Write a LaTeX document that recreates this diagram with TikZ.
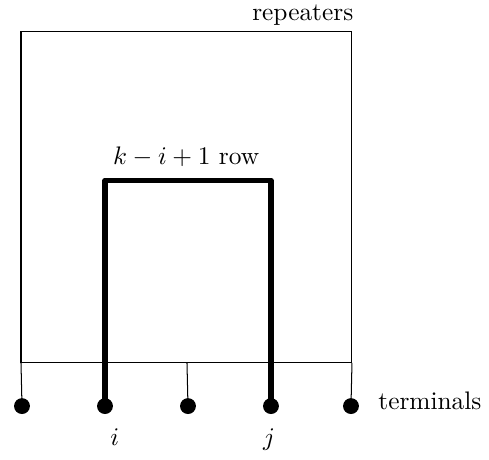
\documentclass[tikz,border=0pt]{standalone}
\usepackage{amsmath}
\usepackage{tikz}
\usetikzlibrary{positioning}

\begin{document}
\begin{tikzpicture}[x=1.15cm,y=1.15cm,
	terminal/.style={circle,fill,inner sep=0pt,minimum size=0.22cm},
	lead/.style={line width=0.4pt},
	route/.style={line width=2pt,line join=round},
	tag/.style={inner sep=0pt}]
	\useasboundingbox (-0.253,-1.169) rectangle (5.639,4.373);

	% repeater block
	\draw[lead] (0,0) rectangle (3.988,3.988);
	\coordinate (b0) at (0,0);
	\coordinate (b2) at (2,0);
	\coordinate (b4) at (3.988,0);

	% terminals
	\node[terminal] (t0) at (0.012,-0.52) {};
	\node[terminal] (t1) at (1.012,-0.52) {};
	\node[terminal] (t2) at (2.012,-0.52) {};
	\node[terminal] (t3) at (3.012,-0.52) {};
	\node[terminal] (t4) at (3.976,-0.52) {};

	\draw[lead] (b0) -- (t0.center);
	\draw[lead] (b2) -- (t2.center);
	\draw[lead] (b4) -- (t4.center);

	% path through row k-i+1
	\coordinate (r1) at (1.012,2.2);
	\coordinate (r3) at (3.012,2.2);
	\draw[route] (t1.center) -- (r1) -- (r3) -- (t3.center);

	\node[tag,anchor=base] (row) at (1.99,2.39) {$k-i+1$ row};
	\node[tag,anchor=base east] (rep) at (4.01,4.13) {repeaters};
	\node[tag,anchor=base west] (term) at (4.30,-0.566) {terminals};
	\node[tag,anchor=base] (li) at (1.13,-1.0) {$i$};
	\node[tag,anchor=base] (lj) at (2.99,-1.0) {$j$};
\end{tikzpicture}
\end{document}
